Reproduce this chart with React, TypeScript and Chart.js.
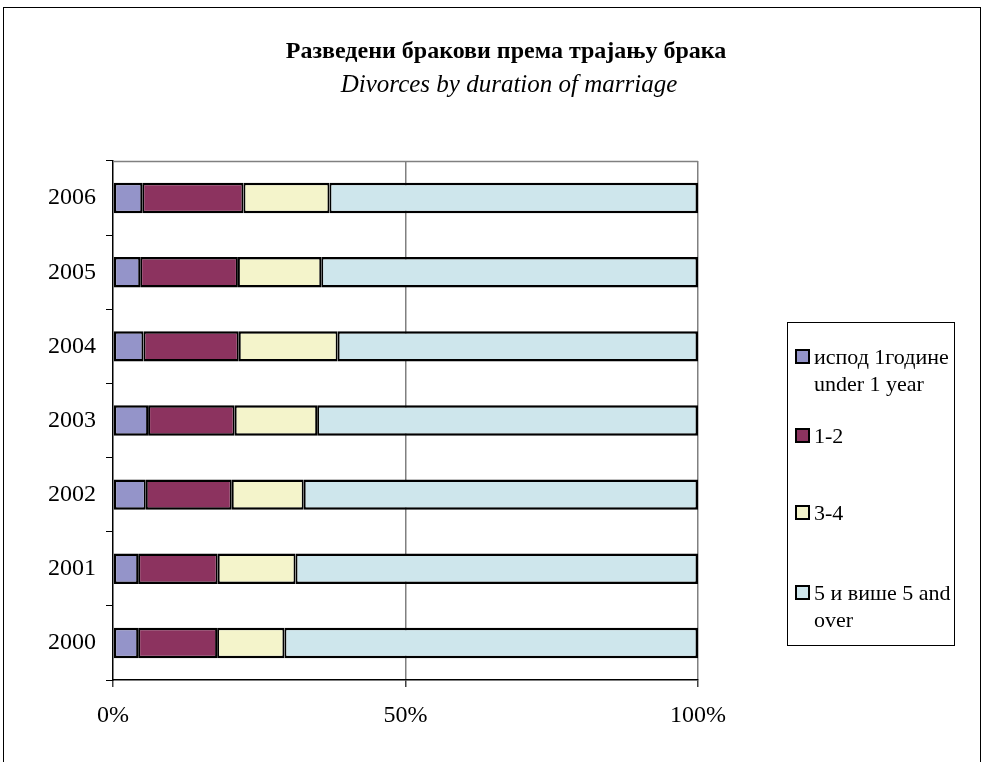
import React, { useEffect, useRef } from 'react';
import { Chart, registerables } from 'chart.js';
Chart.register(...registerables);

const titleText = 'Разведени бракови према трајању брака';
const subtitleText = 'Divorces by duration of marriage';
const years = ['2000', '2001', '2002', '2003', '2004', '2005', '2006'];
const under1 = [4.3, 4.3, 5.6, 6.0, 5.2, 4.65, 5.0];
const y1to2 = [13.5, 13.6, 14.7, 14.8, 16.3, 16.7, 17.3];
const y3to4 = [11.5, 13.3, 12.3, 14.1, 16.9, 14.25, 14.7];
const y5plus = [70.7, 68.8, 67.4, 65.1, 61.6, 64.4, 63.0];
const seriesNames = [
  ['испод 1године', 'under 1 year'],
  ['1-2'],
  ['3-4'],
  ['5 и више 5 and', 'over'],
];
const seriesColors = ['#9494C9', '#8C335F', '#F4F4CB', '#CEE6EC'];
const xTicks = [0, 50, 100];

const FONT = "'Liberation Serif', 'Times New Roman', serif";

export default function App() {
  const ref = useRef<HTMLCanvasElement>(null);
  useEffect(() => {
    const canvas = ref.current!;
    const seriesData = [under1, y1to2, y3to4, y5plus];
    const decorPlugin = {
      id: 'decor',
      beforeDraw(chart: any) {
        const ctx = chart.ctx;
        ctx.save();
        ctx.fillStyle = '#fff';
        ctx.fillRect(0, 0, chart.width, chart.height);
        ctx.restore();
      },
      afterDraw(chart: any) {
        const ctx = chart.ctx;
        const ca = chart.chartArea;
        ctx.save();
        // outer frame
        ctx.strokeStyle = '#000';
        ctx.lineWidth = 1;
        ctx.strokeRect(3.5, 7.5, 977, 800);
        // plot area top border
        ctx.strokeStyle = '#808080';
        ctx.lineWidth = 1.5;
        ctx.beginPath();
        ctx.moveTo(ca.left, ca.top + 0.5);
        ctx.lineTo(ca.right, ca.top + 0.5);
        ctx.stroke();
        // titles
        ctx.fillStyle = '#000';
        ctx.textAlign = 'center';
        ctx.textBaseline = 'alphabetic';
        ctx.font = `bold 24px ${FONT}`;
        ctx.fillText(titleText, 506, 58);
        ctx.font = `italic 25px ${FONT}`;
        ctx.fillText(subtitleText, 509, 92);
        // legend
        ctx.strokeStyle = '#000';
        ctx.lineWidth = 1;
        ctx.strokeRect(787.5, 322.5, 167, 323);
        const baselines = [364, 443, 520, 600];
        ctx.textAlign = 'left';
        ctx.font = `22px ${FONT}`;
        seriesNames.forEach((lines, i) => {
          const b = baselines[i];
          ctx.fillStyle = seriesColors[i];
          ctx.fillRect(796, b - 14, 13, 13);
          ctx.strokeStyle = '#000';
          ctx.lineWidth = 2;
          ctx.strokeRect(796, b - 14, 13, 13);
          ctx.fillStyle = '#000';
          lines.forEach((t, j) => ctx.fillText(t, 814, b + j * 27));
        });
        ctx.restore();
      },
    };
    const chart = new Chart(canvas, {
      type: 'bar',
      data: {
        labels: years,
        datasets: seriesData.map((d, i) => ({
          label: seriesNames[i].join(' '),
          data: d,
          backgroundColor: seriesColors[i],
          borderColor: '#000',
          borderWidth: {
            top: 2.5,
            bottom: 2.5,
            left: i === 0 ? 2.5 : 2,
            right: i === seriesData.length - 1 ? 2.5 : 2,
          },
          borderSkipped: false,
          inflateAmount: 0,
          categoryPercentage: 1,
          barPercentage: 0.41,
        })),
      },
      options: {
        indexAxis: 'y',
        animation: false,
        responsive: false,
        devicePixelRatio: 1,
        layout: { padding: { top: 161, right: 284, left: 0, bottom: 0 } },
        plugins: {
          legend: { display: false },
          title: { display: false },
          tooltip: { enabled: false },
        },
        scales: {
          x: {
            stacked: true,
            min: 0,
            max: 100,
            afterFit: (s: any) => { s.height = 82; },
            afterBuildTicks: (s: any) => { s.ticks = xTicks.map((v) => ({ value: v })); },
            ticks: {
              callback: (v: any) => `${v}%`,
              font: { family: FONT, size: 24 },
              color: '#000',
              padding: 14,
              maxRotation: 0,
            },
            grid: {
              color: (c: any) => (c.tick && c.tick.value === 0 ? 'rgba(0,0,0,0)' : '#808080'),
              lineWidth: 1.5,
              tickLength: 7,
              tickColor: '#404040',
              tickWidth: 1.5,
            },
            border: { display: true, color: '#000', width: 1.5 },
          },
          y: {
            stacked: true,
            reverse: true,
            afterFit: (s: any) => { s.width = 113; },
            ticks: {
              font: { family: FONT, size: 24 },
              color: '#000',
              padding: 10,
            },
            grid: {
              drawOnChartArea: false,
              tickLength: 7,
              color: '#000',
              tickColor: '#000',
              lineWidth: 1,
            },
            border: { display: true, color: '#000', width: 1.5 },
          },
        },
      },
      plugins: [decorPlugin],
    } as any);
    return () => chart.destroy();
  }, []);
  return (
    <div style={{ position: 'fixed', left: 0, top: 0, width: 982, height: 762, background: '#fff' }}>
      <canvas ref={ref} width={982} height={762} style={{ width: 982, height: 762, display: 'block' }} />
    </div>
  );
}
